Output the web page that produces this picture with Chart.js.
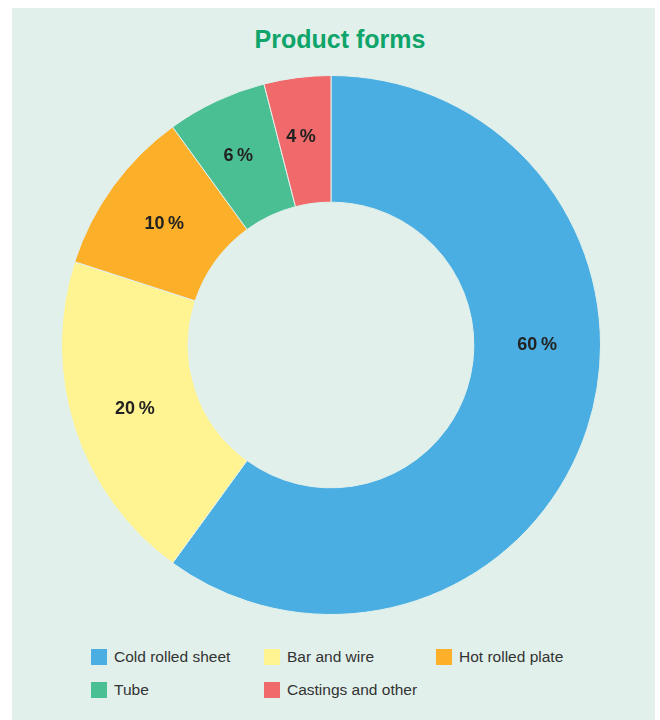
<!DOCTYPE html>
<html>
<head>
<meta charset="utf-8">
<script src="https://cdn.jsdelivr.net/npm/chart.js@4"></script>
<style>
  body { margin: 0; background: #ffffff; font-family: "Liberation Sans", Arial, sans-serif; }
  #panel { position: absolute; left: 12px; top: 8px; width: 643px; height: 712px; background: #e1f0eb; }
  #title { position: absolute; left: 13px; right: 0; top: 17px; text-align: center; font-size: 25px; font-weight: bold; color: #0ea46a; }
  #chartBox { position: absolute; left: 0; top: 67px; width: 638px; height: 540px; }
  #legend { position: absolute; left: 79px; top: 639px; display: grid; grid-template-columns: 173px 172px 200px; row-gap: 14px; }
  .item { display: flex; align-items: center; font-size: 15.5px; color: #333; height: 19px; }
  .box { width: 16px; height: 16px; margin-right: 7px; }
</style>
</head>
<body>
<div id="panel">
  <div id="title">Product forms</div>
  <div id="chartBox"><canvas id="donut"></canvas></div>
  <div id="legend"></div>
</div>
<script>
const categories = ['Cold rolled sheet', 'Bar and wire', 'Hot rolled plate', 'Tube', 'Castings and other'];
const shares = [60, 20, 10, 6, 4];
const colors = ['#4aaee2', '#fff491', '#fcaf28', '#4bbf94', '#f0696b'];
// label angle tweak (degrees) so the big slice label sits at 3 o'clock
const labelShift = [-18, 0, 0, -1, -1];

document.addEventListener('DOMContentLoaded', function() {
    const sliceLabels = {
        id: 'sliceLabels',
        afterDatasetsDraw(chart) {
            const ctx = chart.ctx;
            const meta = chart.getDatasetMeta(0);
            ctx.save();
            ctx.font = 'bold 18px "Liberation Sans", Arial, sans-serif';
            ctx.fillStyle = '#222';
            ctx.textAlign = 'center';
            ctx.textBaseline = 'middle';
            meta.data.forEach((arc, i) => {
                const p = arc.getProps(['x', 'y', 'startAngle', 'endAngle', 'innerRadius', 'outerRadius'], true);
                const mid = (p.startAngle + p.endAngle) / 2 + labelShift[i] * Math.PI / 180;
                const r = (p.innerRadius + p.outerRadius) / 2 + (i > 2 ? 4 : 0);
                ctx.fillText(shares[i] + '\u2009%', p.x + Math.cos(mid) * r, p.y + Math.sin(mid) * r);
            });
            ctx.restore();
        }
    };

    new Chart(document.getElementById('donut'), {
        type: 'doughnut',
        data: {
            labels: categories,
            datasets: [{
                data: shares,
                backgroundColor: colors,
                borderColor: '#e1f0eb',
                borderWidth: 1
            }]
        },
        options: {
            responsive: true,
            maintainAspectRatio: false,
            animation: false,
            cutout: '53%',
            layout: { padding: 0 },
            plugins: {
                legend: { display: false },
                tooltip: { enabled: false }
            }
        },
        plugins: [sliceLabels]
    });

    // legend as a grid, built from the same arrays
    const legend = document.getElementById('legend');
    legend.innerHTML = categories.map((name, i) => `
        <div class="item"><span class="box" style="background:${colors[i]}"></span>${name}</div>
    `).join('');
});
</script>
</body>
</html>
